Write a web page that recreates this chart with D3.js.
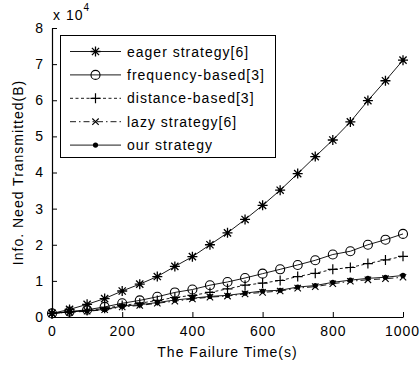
<!DOCTYPE html>
<html>
<head>
<meta charset="utf-8">
<script src="https://cdn.jsdelivr.net/npm/d3@7"></script>
<style>
  body { margin: 0; background: #fff; }
  text { font-family: Arial, "Liberation Sans", sans-serif; fill: #000; letter-spacing: 1px; }
</style>
</head>
<body>
<div id="canvas"></div>
<script>
"use strict"

/* Data: failure time (s) and info transmitted (x 10^4 B) */
let failureTime = [0, 50, 100, 150, 200, 250, 300, 350, 400, 450, 500,
    550, 600, 650, 700, 750, 800, 850, 900, 950, 1000];
let eagerValues = [0.10, 0.21, 0.35, 0.51, 0.72, 0.91, 1.12, 1.40, 1.67, 2.00, 2.33,
    2.70, 3.09, 3.51, 3.97, 4.44, 4.90, 5.40, 5.99, 6.54, 7.11];
let frequencyValues = [0.10, 0.15, 0.20, 0.28, 0.38, 0.46, 0.56, 0.68, 0.76, 0.88, 0.97,
    1.08, 1.20, 1.32, 1.44, 1.57, 1.73, 1.82, 2.00, 2.14, 2.30];
let distanceValues = [0.10, 0.14, 0.18, 0.24, 0.32, 0.38, 0.46, 0.54, 0.60, 0.68, 0.78,
    0.88, 0.94, 1.01, 1.12, 1.21, 1.32, 1.37, 1.48, 1.58, 1.68];
let lazyValues = [0.10, 0.13, 0.16, 0.20, 0.28, 0.32, 0.38, 0.44, 0.50, 0.55, 0.58,
    0.64, 0.68, 0.72, 0.80, 0.84, 0.92, 0.99, 1.03, 1.06, 1.10];
let ourValues = [0.10, 0.14, 0.17, 0.21, 0.30, 0.34, 0.40, 0.47, 0.52, 0.57, 0.60,
    0.66, 0.72, 0.74, 0.83, 0.87, 0.96, 1.02, 1.07, 1.10, 1.15];

let seriesNames = ["eager strategy[6]", "frequency-based[3]", "distance-based[3]", "lazy strategy[6]", "our strategy"];
let xTicks = [0, 200, 400, 600, 800, 1000];
let yTicks = [0, 1, 2, 3, 4, 5, 6, 7, 8];

/* Drawing config */
let svgWidth = 420;
let svgHeight = 368;
let plotLeft = 52, plotRight = 403, plotTop = 28, plotBottom = 317;

let svg = d3.select("#canvas")
    .append("svg")
    .attr("width", svgWidth)
    .attr("height", svgHeight);

let x = d3.scaleLinear().domain([0, 1000]).range([plotLeft, plotRight]);
let y = d3.scaleLinear().domain([0, 8]).range([plotBottom, plotTop]);

/* Axes, ticks point inward like matlab */
let xAxis = svg.append("g")
    .attr("transform", "translate(0," + plotBottom + ")")
    .call(d3.axisBottom(x).tickValues(xTicks).tickFormat(d3.format("d"))
        .tickSizeInner(-5).tickSizeOuter(0).tickPadding(9));
let yAxis = svg.append("g")
    .attr("transform", "translate(" + plotLeft + ",0)")
    .call(d3.axisLeft(y).tickValues(yTicks).tickFormat(d3.format("d"))
        .tickSizeInner(-5).tickSizeOuter(0).tickPadding(8));

svg.selectAll(".domain").attr("stroke", "#000").attr("stroke-width", 1.2);
svg.selectAll(".tick line").attr("stroke", "#000");
svg.selectAll(".tick text")
    .attr("font-size", 14)
    .style("font-family", "Arial, 'Liberation Sans', sans-serif");
// last x label sits right at the window edge, nudge it in a bit
xAxis.selectAll(".tick text").filter(function (d) { return d === 1000; })
    .attr("dx", -1);

/* Marker shapes */
function drawMarker(g, kind, cx, cy) {
    if (kind === "star") {
        let s = 5, d = 3.6;
        g.append("path")
            .attr("d", "M" + (cx - s) + "," + cy + "H" + (cx + s) + "M" + cx + "," + (cy - s) + "V" + (cy + s) +
                "M" + (cx - d) + "," + (cy - d) + "L" + (cx + d) + "," + (cy + d) +
                "M" + (cx - d) + "," + (cy + d) + "L" + (cx + d) + "," + (cy - d))
            .attr("stroke", "#000").attr("stroke-width", 1.3);
        g.append("circle").attr("cx", cx).attr("cy", cy).attr("r", 1.6).attr("fill", "#000");
    } else if (kind === "circle") {
        g.append("circle").attr("cx", cx).attr("cy", cy).attr("r", 4.5)
            .attr("fill", "none").attr("stroke", "#000").attr("stroke-width", 1.1);
    } else if (kind === "plus") {
        let s = 5;
        g.append("path")
            .attr("d", "M" + (cx - s) + "," + cy + "H" + (cx + s) + "M" + cx + "," + (cy - s) + "V" + (cy + s))
            .attr("stroke", "#000").attr("stroke-width", 1.2);
    } else if (kind === "cross") {
        let d = 3.2;
        g.append("path")
            .attr("d", "M" + (cx - d) + "," + (cy - d) + "L" + (cx + d) + "," + (cy + d) +
                "M" + (cx - d) + "," + (cy + d) + "L" + (cx + d) + "," + (cy - d))
            .attr("stroke", "#000").attr("stroke-width", 1.1);
    } else {
        g.append("circle").attr("cx", cx).attr("cy", cy).attr("r", 2.6).attr("fill", "#000");
    }
}

let seriesList = [
    { name: seriesNames[0], values: eagerValues, marker: "star", dash: null },
    { name: seriesNames[1], values: frequencyValues, marker: "circle", dash: null },
    { name: seriesNames[2], values: distanceValues, marker: "plus", dash: "3,2.5" },
    { name: seriesNames[3], values: lazyValues, marker: "cross", dash: "6,3,1.5,3" },
    { name: seriesNames[4], values: ourValues, marker: "dot", dash: null }
];

let line = d3.line()
    .x(function (d, i) { return x(failureTime[i]); })
    .y(function (d) { return y(d); });

/* Lines and markers */
seriesList.forEach(function (s) {
    let g = svg.append("g");
    g.append("path")
        .attr("d", line(s.values))
        .attr("fill", "none")
        .attr("stroke", "#000")
        .attr("stroke-width", 0.9)
        .attr("stroke-dasharray", s.dash);
    s.values.forEach(function (v, i) {
        drawMarker(g, s.marker, x(failureTime[i]), y(v));
    });
});

/* Legend */
let legend = svg.append("g");
legend.append("rect")
    .attr("x", 60.5).attr("y", 35.5)
    .attr("width", 215).attr("height", 122)
    .attr("fill", "#fff").attr("stroke", "#000").attr("stroke-width", 1);

seriesList.forEach(function (s, i) {
    let ly = 51.5 + i * 23.4;
    legend.append("line")
        .attr("x1", 70).attr("x2", 121)
        .attr("y1", ly).attr("y2", ly)
        .attr("stroke", "#000").attr("stroke-width", 0.9)
        .attr("stroke-dasharray", s.dash);
    drawMarker(legend, s.marker, 95.5, ly);
    legend.append("text")
        .attr("x", 127).attr("y", ly + 5)
        .attr("font-size", 14)
        .text(s.name);
});

/* Axis labels */
svg.append("text")
    .attr("x", (plotLeft + plotRight) / 2)
    .attr("y", 357)
    .attr("text-anchor", "middle")
    .attr("font-size", 14)
    .text("The Failure Time(s)");

svg.append("text")
    .attr("transform", "translate(23," + ((plotTop + plotBottom) / 2) + ") rotate(-90)")
    .attr("text-anchor", "middle")
    .attr("font-size", 14)
    .text("Info. Need Transmitted(B)");

/* Exponent label */
let expo = svg.append("text")
    .attr("x", 53).attr("y", 20)
    .attr("font-size", 14);
expo.append("tspan").text("x 10");
expo.append("tspan").attr("dy", -9).attr("font-size", 10).text("4");
</script>
</body>
</html>
